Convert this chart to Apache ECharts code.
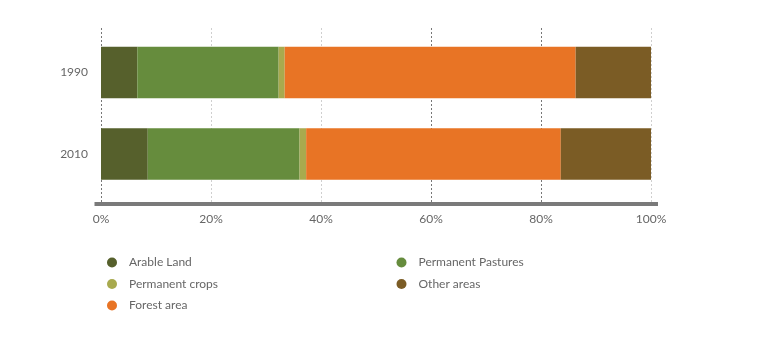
<!DOCTYPE html>
<html><head><meta charset="utf-8">
<script src="https://cdn.jsdelivr.net/npm/echarts@6/dist/echarts.min.js"></script>
<style>html,body{margin:0;padding:0;background:#fff}#c{width:761px;height:339px}</style>
</head><body><div id="c"></div>
<script>
const years = ['1990', '2010'];
const seriesNames = ['Arable Land', 'Permanent Pastures', 'Permanent crops', 'Forest area', 'Other areas'];
const arable = [6.6, 8.5];
const pastures = [25.7, 27.6];
const crops = [1.1, 1.2];
const forest = [52.9, 46.3];
const other = [13.7, 16.4];
const xTicks = [0, 20, 40, 60, 80, 100];
const colors = ['#56602c', '#668c3d', '#a8aa4e', '#e87425', '#7b5c25'];
const values = [arable, pastures, crops, forest, other];
const font = 'Lato';

const chart = echarts.init(document.getElementById('c'));
chart.setOption({
  animation: false,
  grid: [
    {left: 101, right: 110, top: 31.75, bottom: 144.25},
    {left: 101, right: 110, top: 28, bottom: 135}
  ],
  xAxis: [
    {gridIndex: 0, type: 'value', min: 0, max: 100, interval: 20, show: false},
    {gridIndex: 1, type: 'value', min: 0, max: 100, interval: 20,
     axisLine: {show: false}, axisTick: {show: false},
     axisLabel: {formatter: v => v + '%', color: '#666', fontFamily: font, fontSize: 12, margin: 9},
     splitLine: {show: true, lineStyle: {type: [2, 2], width: 1,
       color: ['#777', '#cfcfcf', '#cfcfcf', '#777', '#777', '#cfcfcf']}}}
  ],
  yAxis: [
    {gridIndex: 0, type: 'category', data: years, inverse: true,
     axisLine: {show: false}, axisTick: {show: false},
     axisLabel: {color: '#666', fontFamily: font, fontSize: 12, margin: 13}},
    {gridIndex: 1, type: 'value', show: false}
  ],
  graphic: [{type: 'rect', shape: {x: 94.5, y: 202, width: 563.5, height: 4}, style: {fill: '#7a7a7a'}, z: 10}],
  legend: [
    {data: ['Arable Land', 'Permanent crops', 'Forest area'], orient: 'vertical', left: 102, top: 251.5,
     icon: 'circle', itemWidth: 24, itemHeight: 10, itemGap: 9.5,
     textStyle: {color: '#666', fontFamily: font, fontSize: 12}},
    {data: ['Permanent Pastures', 'Other areas'], orient: 'vertical', left: 391.5, top: 251.5,
     icon: 'circle', itemWidth: 24, itemHeight: 10, itemGap: 9.5,
     textStyle: {color: '#666', fontFamily: font, fontSize: 12}}
  ],
  series: seriesNames.map((n, i) => ({
    name: n, type: 'bar', stack: 'total', xAxisIndex: 0, yAxisIndex: 0,
    data: values[i], barWidth: 51.5,
    itemStyle: {color: colors[i]}, z: 5
  }))
});
</script></body></html>
